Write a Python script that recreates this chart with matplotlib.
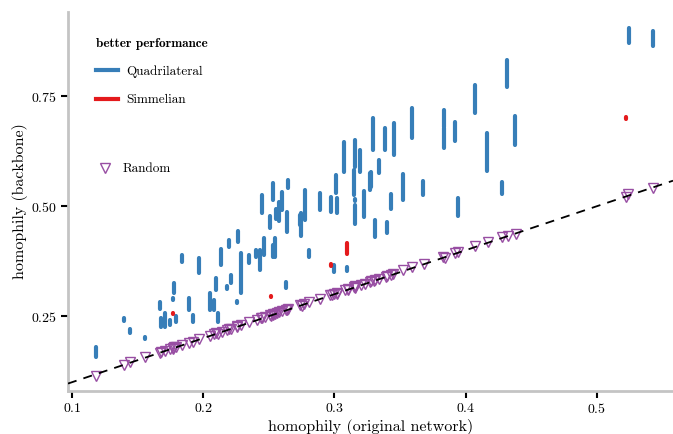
import matplotlib
matplotlib.use("Agg")
import matplotlib.pyplot as plt
from matplotlib.lines import Line2D

plt.rcParams['font.family'] = 'serif'
plt.rcParams['font.serif'] = ['cmr10']
plt.rcParams['mathtext.fontset'] = 'cm'
plt.rcParams['axes.formatter.use_mathtext'] = True

blue = "#377eb8"
red = "#e41a1c"
purple = "#984ea3"

#############################################################################
#   DATA: homophily of original network vs. backbone (range over thresholds)

quad_x = [0.118, 0.140, 0.144, 0.156, 0.167, 0.168, 0.171, 0.175, 0.177, 0.178,
          0.179, 0.184, 0.189, 0.192, 0.197, 0.205, 0.208, 0.210, 0.211, 0.2135,
          0.218, 0.220, 0.221, 0.226, 0.2262, 0.229, 0.235, 0.2405, 0.2435, 0.2445,
          0.2466, 0.251, 0.253, 0.2532, 0.255, 0.2557, 0.258, 0.260, 0.2634, 0.264,
          0.2645, 0.2735, 0.2748, 0.2773, 0.281, 0.2888, 0.2973, 0.300, 0.3015, 0.302,
          0.3076, 0.3097, 0.316, 0.3153, 0.3155, 0.3154, 0.3198, 0.3225, 0.3271, 0.3282,
          0.3295, 0.3309, 0.3338, 0.3389, 0.3402, 0.3431, 0.3454, 0.3519, 0.3593, 0.3677,
          0.3834, 0.3835, 0.3916, 0.3939, 0.4071, 0.4166, 0.4275, 0.4318, 0.4376, 0.5244,
          0.5425]
quad_lo = [0.157, 0.239, 0.211, 0.198, 0.266, 0.225, 0.225, 0.230, 0.286, 0.302,
           0.236, 0.373, 0.264, 0.236, 0.348, 0.264, 0.264, 0.309, 0.236, 0.366,
           0.313, 0.407, 0.325, 0.280, 0.418, 0.302, 0.370, 0.384, 0.355, 0.484,
           0.389, 0.450, 0.514, 0.384, 0.384, 0.470, 0.466, 0.491, 0.314, 0.441,
           0.541, 0.457, 0.432, 0.468, 0.384, 0.491, 0.486, 0.350, 0.530, 0.484,
           0.577, 0.352, 0.589, 0.525, 0.512, 0.459, 0.577, 0.475, 0.536, 0.543,
           0.627, 0.430, 0.575, 0.627, 0.439, 0.493, 0.616, 0.514, 0.655, 0.525,
           0.680, 0.632, 0.648, 0.477, 0.711, 0.580, 0.527, 0.770, 0.639, 0.870,
           0.864]
quad_hi = [0.180, 0.245, 0.220, 0.202, 0.282, 0.245, 0.257, 0.241, 0.291, 0.325,
           0.250, 0.389, 0.291, 0.252, 0.382, 0.302, 0.286, 0.336, 0.257, 0.402,
           0.319, 0.423, 0.343, 0.284, 0.443, 0.393, 0.389, 0.400, 0.400, 0.525,
           0.427, 0.477, 0.552, 0.411, 0.427, 0.493, 0.509, 0.532, 0.327, 0.486,
           0.559, 0.480, 0.484, 0.536, 0.400, 0.530, 0.520, 0.366, 0.570, 0.518,
           0.645, 0.361, 0.650, 0.582, 0.516, 0.502, 0.627, 0.534, 0.575, 0.577,
           0.700, 0.468, 0.605, 0.677, 0.464, 0.527, 0.689, 0.573, 0.723, 0.557,
           0.718, 0.677, 0.691, 0.518, 0.775, 0.666, 0.555, 0.832, 0.705, 0.905,
           0.898]

simm_x = [0.177, 0.2515, 0.2977, 0.3097, 0.5224]
simm_lo = [0.254, 0.293, 0.364, 0.391, 0.698]
simm_hi = [0.258, 0.297, 0.368, 0.416, 0.702]

random_x = [0.118, 0.140, 0.144, 0.156, 0.167, 0.168, 0.171, 0.175, 0.177, 0.177,
            0.178, 0.179, 0.184, 0.189, 0.192, 0.197, 0.205, 0.208, 0.210, 0.211,
            0.214, 0.218, 0.220, 0.221, 0.226, 0.226, 0.229, 0.235, 0.241, 0.244,
            0.245, 0.247, 0.251, 0.252, 0.253, 0.253, 0.255, 0.256, 0.258, 0.260,
            0.263, 0.264, 0.265, 0.274, 0.275, 0.277, 0.281, 0.289, 0.297, 0.298,
            0.300, 0.302, 0.302, 0.308, 0.310, 0.310, 0.315, 0.316, 0.316, 0.316,
            0.320, 0.323, 0.327, 0.328, 0.330, 0.331, 0.334, 0.339, 0.340, 0.343,
            0.345, 0.352, 0.359, 0.368, 0.383, 0.384, 0.392, 0.394, 0.407, 0.417,
            0.428, 0.432, 0.438, 0.522, 0.524, 0.543]
random_y = [0.115, 0.139, 0.145, 0.158, 0.166, 0.169, 0.170, 0.176, 0.178, 0.175,
            0.179, 0.180, 0.185, 0.190, 0.191, 0.198, 0.204, 0.209, 0.211, 0.210,
            0.215, 0.219, 0.221, 0.222, 0.227, 0.225, 0.230, 0.236, 0.242, 0.245,
            0.246, 0.248, 0.252, 0.251, 0.254, 0.252, 0.256, 0.257, 0.259, 0.261,
            0.264, 0.265, 0.266, 0.275, 0.274, 0.278, 0.283, 0.290, 0.298, 0.299,
            0.301, 0.303, 0.301, 0.309, 0.311, 0.309, 0.316, 0.317, 0.315, 0.318,
            0.321, 0.324, 0.328, 0.329, 0.331, 0.332, 0.335, 0.340, 0.341, 0.344,
            0.346, 0.354, 0.361, 0.369, 0.385, 0.383, 0.393, 0.396, 0.409, 0.418,
            0.429, 0.433, 0.436, 0.520, 0.527, 0.541]

#############################################################################
#   PLOT

fig = plt.figure(figsize=(6.73, 4.34), dpi=100)
ax = fig.add_axes([0.101, 0.099, 0.899, 0.873])

ax.vlines(quad_x, quad_lo, quad_hi, colors=blue, linewidths=3.0,
          capstyle='round', zorder=3)
ax.vlines(simm_x, simm_lo, simm_hi, colors=red, linewidths=3.0,
          capstyle='round', zorder=3)
ax.plot(random_x, random_y, ls='none', marker='v', ms=7.5, mfc='none',
        mec=purple, mew=1.0, zorder=2)
ax.axline((0, 0), (1, 1), ls='--', color='black', lw=1.3, dashes=(5, 4), zorder=4)

ax.set_xlim(0.097, 0.558)
ax.set_ylim(0.080, 0.941)
ax.set_xticks([0.1, 0.2, 0.3, 0.4, 0.5])
ax.set_yticks([0.25, 0.50, 0.75])
ax.set_xlabel("homophily (original network)", fontsize=11.5, labelpad=2)
ax.set_ylabel("homophily (backbone)", fontsize=11.5, labelpad=2)

for side in ['top', 'right']:
    ax.spines[side].set_visible(False)
for side in ['left', 'bottom']:
    ax.spines[side].set_color('#c4c4c4')
    ax.spines[side].set_linewidth(2.0)
ax.tick_params(direction='out', length=5, width=1.5, color='black',
               labelsize=10, pad=3)

h1 = [Line2D([], [], color=blue, lw=3), Line2D([], [], color=red, lw=3)]
leg1 = ax.legend(h1, ["Quadrilateral", "Simmelian"], loc='upper left',
                 bbox_to_anchor=(0.026, 0.964), frameon=False, fontsize=9.5,
                 title="better performance", labelspacing=1.2,
                 handlelength=1.7, handletextpad=0.6,
                 title_fontproperties={'family': 'cmb10', 'size': 9.5})
leg1._legend_box.align = "left"
ax.add_artist(leg1)

h2 = [Line2D([], [], ls='none', marker='v', ms=7.5, mfc='none', mec=purple, mew=1.0)]
ax.legend(h2, ["Random"], loc='upper left', bbox_to_anchor=(0.022, 0.633),
          frameon=False, fontsize=9.5, handlelength=1.8, handletextpad=0.4)

fig.savefig("out.png", dpi=100)
